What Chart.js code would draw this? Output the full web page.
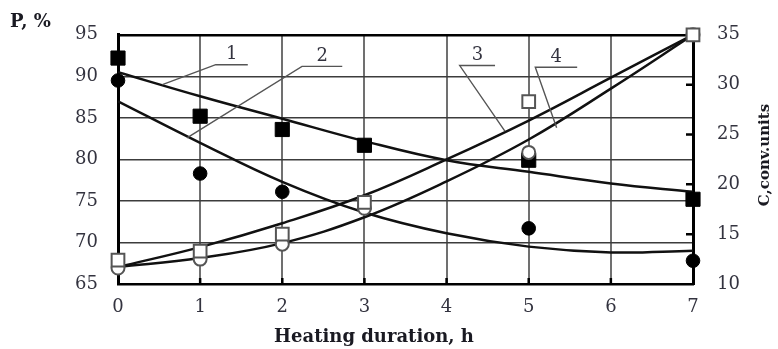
<!DOCTYPE html>
<html>
<head>
<meta charset="utf-8">
<script src="https://cdn.jsdelivr.net/npm/chart.js"></script>
<style>
  html, body { margin: 0; padding: 0; background: #fff; }
  #wrap { width: 778px; height: 349px; }
</style>
</head>
<body>
<div id="wrap"><canvas id="chart" width="778" height="349"></canvas></div>
<script>
// heating duration, h
const hours = [0, 1, 2, 3, 4, 5, 6, 7];
const markerHours = [0, 1, 2, 3, 5, 7];
const circleHours = [0, 1, 2, 5, 7];

// measured points
const filledSquares = [92.2, 85.2, 83.6, 81.7, 79.9, 75.2];   // P, %
const filledCircles = [89.5, 78.3, 76.1, 71.7, 67.8];         // P, %
const openSquares = [12.4, 13.3, 15.0, 18.2, 28.3, 35.0];     // C, conv.units
const openCircles = [11.6, 12.5, 14.0, 17.6, 23.2, 35.0];     // C, conv.units

// fitted curves
const curve1 = [90.5, 87.6, 84.9, 82.2, 79.9, 78.5, 77.1, 76.1];
const curve2 = [87.0, 82.0, 77.3, 73.6, 71.1, 69.5, 68.8, 69.0];
const curve3 = [11.7, 13.7, 16.1, 18.9, 22.5, 26.4, 30.7, 35.0];
const curve4 = [11.7, 12.6, 14.1, 16.7, 20.3, 24.5, 29.6, 35.0];

const leftTicks = [65, 70, 75, 80, 85, 90, 95];
const rightTicks = [10, 15, 20, 25, 30, 35];

// curve numbers: underline span (x), underline level (P) and leader tip (x, P)
const callouts = [
  { text: '1', x0: 1.19, x1: 1.58, y: 91.4, tipX: 0.54, tipY: 89.0 },
  { text: '2', x0: 2.24, x1: 2.73, y: 91.2, tipX: 0.84, tipY: 82.6 },
  { text: '3', x0: 4.16, x1: 4.59, y: 91.3, tipX: 4.71, tipY: 83.4 },
  { text: '4', x0: 5.08, x1: 5.59, y: 91.1, tipX: 5.34, tipY: 83.8 }
];

const pts = (xs, ys) => xs.map((x, i) => ({ x: x, y: ys[i] }));

const tickColor = '#33333f';
const serif = 'DejaVu Serif';

const extras = {
  id: 'extras',
  afterDraw(chart) {
    const ctx = chart.ctx;
    const xs = chart.scales.x, yl = chart.scales.y, yr = chart.scales.y1;
    const area = chart.chartArea;
    ctx.save();

    // inward tick marks on bottom and right axes
    ctx.strokeStyle = '#000';
    ctx.lineWidth = 2.5;
    ctx.beginPath();
    hours.slice(1, -1).forEach(h => {
      const px = xs.getPixelForValue(h);
      ctx.moveTo(px, area.bottom);
      ctx.lineTo(px, area.bottom - 6);
    });
    rightTicks.slice(1, -1).forEach(v => {
      const py = yr.getPixelForValue(v);
      ctx.moveTo(area.right, py);
      ctx.lineTo(area.right - 7, py);
    });
    ctx.stroke();

    // callouts
    ctx.strokeStyle = '#555';
    ctx.lineWidth = 1.4;
    ctx.fillStyle = tickColor;
    ctx.font = '18px "' + serif + '"';
    ctx.textAlign = 'center';
    ctx.textBaseline = 'bottom';
    callouts.forEach(c => {
      const ax = xs.getPixelForValue(c.x0), bx = xs.getPixelForValue(c.x1);
      const ly = yl.getPixelForValue(c.y);
      ctx.beginPath();
      ctx.moveTo(bx, ly);
      ctx.lineTo(ax, ly);
      ctx.lineTo(xs.getPixelForValue(c.tipX), yl.getPixelForValue(c.tipY));
      ctx.stroke();
      ctx.fillText(c.text, (ax + bx) / 2, ly - 1);
    });

    // axis titles
    ctx.fillStyle = '#1a1a22';
    ctx.font = 'bold 18px "' + serif + '"';
    ctx.textAlign = 'left';
    ctx.textBaseline = 'middle';
    ctx.fillText('P, %', 10, 22);

    ctx.textAlign = 'center';
    ctx.font = 'bold 18px "' + serif + '"';
    ctx.fillText('Heating duration, h', 374, 337);

    ctx.translate(765, 155);
    ctx.rotate(-Math.PI / 2);
    ctx.font = 'bold 15px "' + serif + '"';
    ctx.fillText('C,conv.units', 0, 0);
    ctx.restore();
  }
};

const markerBase = { showLine: false, borderWidth: 2, clip: false };
const curveBase = {
  pointRadius: 0,
  borderColor: '#111',
  borderWidth: 2.5,
  tension: 0.4,
  fill: false
};

new Chart(document.getElementById('chart').getContext('2d'), {
  type: 'line',
  data: {
    datasets: [
      Object.assign({}, markerBase, { label: 'open squares', data: pts(markerHours, openSquares), yAxisID: 'y1',
        pointStyle: 'rect', pointRadius: 9, pointBackgroundColor: '#fff', pointBorderColor: '#555' }),
      Object.assign({}, markerBase, { label: 'open circles', data: pts(markerHours, openCircles), yAxisID: 'y1',
        pointStyle: 'circle', pointRadius: 6.5, pointBackgroundColor: '#fff', pointBorderColor: '#555' }),
      Object.assign({}, markerBase, { label: 'filled squares', data: pts(markerHours, filledSquares), yAxisID: 'y',
        pointStyle: 'rect', pointRadius: 10, pointBackgroundColor: '#000', pointBorderColor: '#000', borderWidth: 1 }),
      Object.assign({}, markerBase, { label: 'filled circles', data: pts(circleHours, filledCircles), yAxisID: 'y',
        pointStyle: 'circle', pointRadius: 6.8, pointBackgroundColor: '#000', pointBorderColor: '#000', borderWidth: 1 }),
      Object.assign({}, curveBase, { label: '1', data: pts(hours, curve1), yAxisID: 'y' }),
      Object.assign({}, curveBase, { label: '2', data: pts(hours, curve2), yAxisID: 'y' }),
      Object.assign({}, curveBase, { label: '3', data: pts(hours, curve3), yAxisID: 'y1' }),
      Object.assign({}, curveBase, { label: '4', data: pts(hours, curve4), yAxisID: 'y1' })
    ]
  },
  options: {
    responsive: false,
    animation: false,
    layout: { padding: { top: 17, left: 0, right: 0, bottom: 0 } },
    plugins: { legend: { display: false }, tooltip: { enabled: false } },
    scales: {
      x: {
        type: 'linear',
        min: hours[0],
        max: hours[hours.length - 1],
        afterBuildTicks: s => { s.ticks = hours.map(v => ({ value: v })); },
        afterFit: s => { s.height = 65; },
        ticks: { padding: 13, color: tickColor, font: { family: serif, size: 18 } },
        grid: { color: '#707070', lineWidth: 2, drawTicks: false },
        border: { color: '#000', width: 2.5 }
      },
      y: {
        position: 'left',
        min: leftTicks[0],
        max: leftTicks[leftTicks.length - 1],
        afterBuildTicks: s => { s.ticks = leftTicks.map(v => ({ value: v })); },
        afterFit: s => { s.width = 118; },
        ticks: { padding: 20, color: tickColor, font: { family: serif, size: 18 } },
        grid: {
          color: c => (c.tick && c.tick.value === 95) ? '#000' : '#3c3c3c',
          lineWidth: c => (c.tick && c.tick.value === 95) ? 2.5 : 1.6,
          drawTicks: false
        },
        border: { color: '#000', width: 3 }
      },
      y1: {
        position: 'right',
        min: rightTicks[0],
        max: rightTicks[rightTicks.length - 1],
        afterBuildTicks: s => { s.ticks = rightTicks.map(v => ({ value: v })); },
        afterFit: s => { s.width = 85; },
        ticks: { padding: 24, color: tickColor, font: { family: serif, size: 18 } },
        grid: { drawOnChartArea: false, drawTicks: false },
        border: { color: '#000', width: 3 }
      }
    }
  },
  plugins: [extras]
});
</script>
</body>
</html>
